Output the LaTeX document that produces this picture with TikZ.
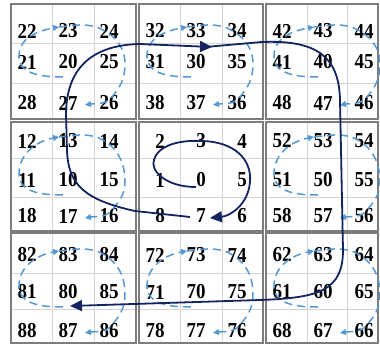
\documentclass[tikz,border=0pt]{standalone}
\usepackage{fontspec,graphicx}
\setmainfont{Liberation Serif}
\usetikzlibrary{arrows.meta,calc}
\definecolor{figN}{RGB}{20,36,96}
\definecolor{figL}{RGB}{86,152,210}
\definecolor{figG}{RGB}{125,125,125}
\definecolor{figF}{RGB}{212,212,212}

\begin{document}
\begin{tikzpicture}[x=1pt,y=1pt,
  num/.style={inner sep=0pt,font=\fontsize{19}{19}\selectfont\bfseries},
  loopB/.style={figL,line width=1.5pt,dash pattern=on 8pt off 5pt},
  pathN/.style={figN,line width=1.8pt},
  >={Triangle[length=12pt,width=11pt]}]
\useasboundingbox (0,0) rectangle (380,-345);
% the nine blocks
\foreach \bx/\bw/\cx in {11/125/83,139/124/83,266/112/81}
  \foreach \by/\bh/\ra/\rb in {4/115/39/79,122/109/36/75,233/110/40/76}{
    \draw[figF,line width=0.8pt] (\bx+41,-\by) -- ++(0,-\bh) (\bx+\cx,-\by) -- ++(0,-\bh)
      (\bx,-\by-\ra) -- ++(\bw,0) (\bx,-\by-\rb) -- ++(\bw,0);
    \draw[figG,line width=1.2pt] (\bx,-\by) rectangle ++(\bw,-\bh);
  }
% numbers: block prefix \p, cell suffix \s
\foreach \bc/\br/\p in {0/0/2,1/0/3,2/0/4,0/1/1,1/1/0,2/1/5,0/2/8,1/2/7,2/2/6}
  \foreach \i/\j/\s in {0/0/2,1/0/3,2/0/4,0/1/1,1/1/0,2/1/5,0/2/8,1/2/7,2/2/6}{
    \pgfmathsetmacro\nx{{11,139,266}[\bc]+16+41*\i+(\p==0)*5}
    \pgfmathsetmacro\ny{{31,62,103,141,180,216,255,292,331}[3*\br+\j]}
    \node[num] (n\p\s) at (\nx,-\ny) {\scalebox{1}[1.12]{\ifnum\p=0 \s\else\p\s\fi}};
  }
% dashed spiral in each outer block
\foreach \p in {1,...,8}{
  \draw[loopB,-{Triangle[length=6pt,width=6pt]}] ($(n\p0)+(-5,-15)$) to[out=180,in=-90]
    ($(n\p1)+(-8,6)$) to[out=90,in=190] ($(n\p3)+(-9,4)$);
  \draw[loopB,-{Triangle[length=6pt,width=6pt]}] ($(n\p3)+(-9,4)$) to[out=5,in=160]
    ($(n\p4)+(-10,3)$) to[out=-25,in=90] ($(n\p5)+(16,-2)$) to[out=-90,in=50]
    ($(n\p6)+(3,6)$) to[out=230,in=10] ($(n\p7)+(17,-2)$);
}
% main spiral
\draw[pathN,->] ($(n00)+(-5,-7)$) .. controls (165,-187) and (150,-170) .. (154,-160)
  .. controls (158,-145) and (180,-140) .. (200,-141)
  .. controls (235,-141) and (252,-160) .. (250,-182)
  .. controls (248,-205) and (230,-216) .. ($(n07.east)+(4,-2)$);
\draw[pathN,->] ($(n07.west)+(-6,-1)$) -- (135,-211) .. controls (85,-200) and (68,-185) .. (67,-150)
  -- (66,-115) .. controls (66,-70) and (90,-45) .. (140,-44) -- ($(n30)+(16,15)$);
\draw[pathN,->] ($(n30)+(9,15)$) -- (262,-42) .. controls (315,-40) and (339,-55) .. (340,-100)
  -- (343,-250) .. controls (343,-290) and (320,-298) .. (260,-300) -- ($(n80)+(2,-14)$);
\end{tikzpicture}
\end{document}
